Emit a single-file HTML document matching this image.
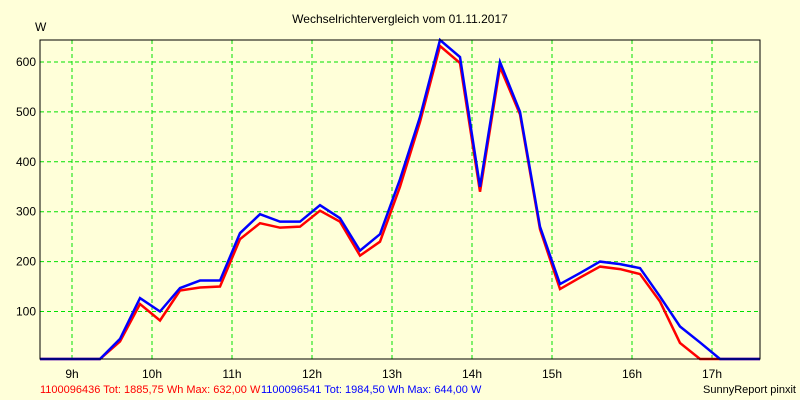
<!DOCTYPE html>
<html><head><meta charset="utf-8"><style>
body{margin:0;background:#ffffd9;}
svg{display:block;font-family:"Liberation Sans",sans-serif;}
</style></head><body>
<svg id="chart" width="800" height="400">
<rect width="800" height="400" fill="#ffffd9"/>
<text x="400" y="23" font-size="12" text-anchor="middle">Wechselrichtervergleich vom 01.11.2017</text>
<text x="35" y="31" font-size="12">W</text>
<g id="grid"></g>
<g id="series"></g>
<rect x="40" y="40" width="720" height="319" fill="none" stroke="#000" stroke-width="1"/>
<text x="40" y="393" font-size="11" fill="#f00">1100096436 Tot: 1885,75 Wh Max: 632,00 W</text>
<text x="261" y="393" font-size="11" fill="#00f">1100096541 Tot: 1984,50 Wh Max: 644,00 W</text>
<text x="796" y="393" font-size="11" text-anchor="end">SunnyReport pinxit</text>
</svg>
<script>
const yTicks=[100,200,300,400,500,600];
const xTicks=["9h","10h","11h","12h","13h","14h","15h","16h","17h"];
const red=[0,0,0,0,40,115,82,142,148,150,245,277,268,270,302,280,212,240,350,480,632,598,340,590,495,265,145,168,190,185,175,120,37,0,0,0,0];
const blue=[0,0,0,0,45,127,100,147,162,162,257,295,280,280,313,287,222,255,365,490,644,610,350,600,500,270,155,177,200,195,187,130,70,38,0,0,0];
const NS="http://www.w3.org/2000/svg";
const y=v=>Math.min(359,361.4-v*0.499);
const x=i=>40+20*i;
const tx=h=>72+80*h;
const grid=document.getElementById('grid');
const svg=document.getElementById('chart');
yTicks.forEach(v=>{
 const l=document.createElementNS(NS,'line');
 
 
 l.setAttribute('x1',40);l.setAttribute('x2',760);l.setAttribute('y1',y(v));l.setAttribute('y2',y(v));
 l.setAttribute('stroke','#00e000');l.setAttribute('stroke-dasharray','4,3');
 grid.appendChild(l);
 const t=document.createElementNS(NS,'text');
 
 
 t.setAttribute('x',36);t.setAttribute('y',y(v)+4);t.setAttribute('font-size','12');t.setAttribute('text-anchor','end');
 t.textContent=v;svg.appendChild(t);
});
xTicks.forEach((s,i)=>{
 const l=document.createElementNS(NS,'line');
 
 
 l.setAttribute('x1',tx(i));l.setAttribute('x2',tx(i));l.setAttribute('y1',40);l.setAttribute('y2',359);
 l.setAttribute('stroke','#00e000');l.setAttribute('stroke-dasharray','4,3');
 grid.appendChild(l);
 const t=document.createElementNS(NS,'text');
 
 
 t.setAttribute('x',tx(i));t.setAttribute('y',378);t.setAttribute('font-size','12');t.setAttribute('text-anchor','middle');
 t.textContent=s;svg.appendChild(t);
});
const g=document.getElementById('series');
[[red,'#f00','red-series'],[blue,'#00f','blue-series']].forEach(([d,c,n])=>{
 const p=document.createElementNS(NS,'polyline');
 
 
 p.setAttribute('points',d.map((v,i)=>x(i)+','+y(v)).join(' '));
 p.setAttribute('fill','none');p.setAttribute('stroke',c);p.setAttribute('stroke-width','2.5');
 g.appendChild(p);
});
</script>
</body></html>
